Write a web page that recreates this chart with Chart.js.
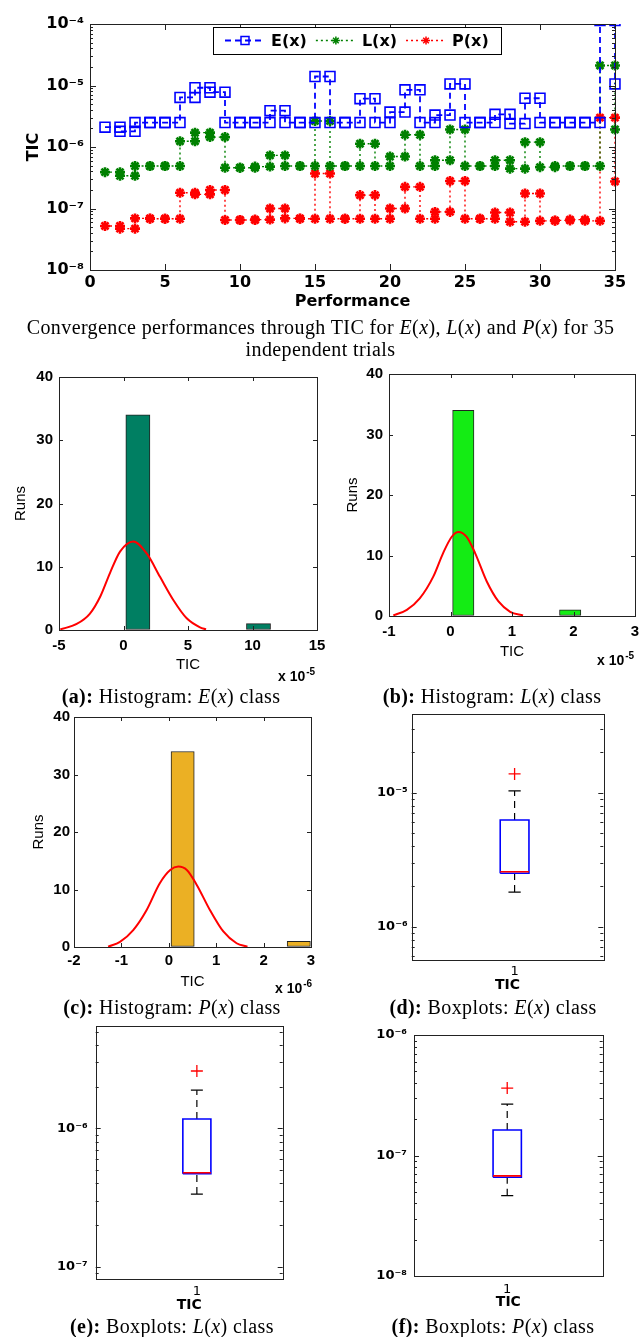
<!DOCTYPE html>
<html><head><meta charset="utf-8">
<script src="https://cdn.jsdelivr.net/npm/chart.js@4/dist/chart.umd.min.js"></script>
<style>
html,body{margin:0;padding:0;background:#fff;}
#page{position:relative;width:641px;height:1337px;overflow:hidden;background:#fff;}
canvas{position:absolute;}
.cap{position:absolute;font-family:'Liberation Serif','Times New Roman',serif;font-size:20px;line-height:22px;letter-spacing:0.4px;color:#000;white-space:nowrap;text-align:center;}
.mult{position:absolute;font-family:'Liberation Sans',Arial,sans-serif;font-weight:bold;font-size:14px;line-height:16px;white-space:nowrap;color:#000;}
.mult span{position:relative;top:-6px;font-size:10px;margin-left:1px;}
</style></head>
<body><div id="page">
<canvas id="cTop"></canvas>
<canvas id="cHa"></canvas>
<canvas id="cHb"></canvas>
<canvas id="cHc"></canvas>
<canvas id="cBd"></canvas>
<canvas id="cBe"></canvas>
<canvas id="cBf"></canvas>
<div class="cap" style="left:0;top:316px;width:641px;">Convergence performances through TIC for <i>E</i>(<i>x</i>), <i>L</i>(<i>x</i>) and <i>P</i>(<i>x</i>) for 35<br>independent trials</div>
<div class="mult" style="left:278px;top:668px;">x 10<span>-5</span></div>
<div class="mult" style="left:597px;top:652px;">x 10<span>-5</span></div>
<div class="mult" style="left:275px;top:980px;">x 10<span>-6</span></div>
<div class="cap" style="left:21px;top:685px;width:300px;"><b>(a):</b> Histogram: <i>E</i>(<i>x</i>) class</div>
<div class="cap" style="left:342px;top:685px;width:300px;"><b>(b):</b> Histogram: <i>L</i>(<i>x</i>) class</div>
<div class="cap" style="left:22px;top:996px;width:300px;"><b>(c):</b> Histogram: <i>P</i>(<i>x</i>) class</div>
<div class="cap" style="left:343px;top:996px;width:300px;"><b>(d):</b> Boxplots: <i>E</i>(<i>x</i>) class</div>
<div class="cap" style="left:22px;top:1315px;width:300px;"><b>(e):</b> Boxplots: <i>L</i>(<i>x</i>) class</div>
<div class="cap" style="left:343px;top:1315px;width:300px;"><b>(f):</b> Boxplots: <i>P</i>(<i>x</i>) class</div>
</div>
<script>
// ---------------- DATA ----------------
const trials = [1,2,3,4,5,6,7,8,9,10,11,12,13,14,15,16,17,18,19,20,21,22,23,24,25,26,27,28,29,30,31,32,33,34,35];
const ticE = [2.1e-6,1.8e-6,2.5e-6,2.5e-6,2.5e-6,6.4e-6,9.2e-6,7.8e-6,2.5e-6,2.5e-6,2.5e-6,3.9e-6,2.5e-6,2.5e-6,1.4e-5,2.5e-6,2.5e-6,6.1e-6,2.5e-6,3.7e-6,8.5e-6,2.5e-6,3.3e-6,1.06e-5,2.5e-6,2.5e-6,3.4e-6,2.4e-6,6.2e-6,2.5e-6,2.5e-6,2.5e-6,2.5e-6,1.14e-4,1.06e-5];
const ticL = [3.9e-7,3.4e-7,4.9e-7,4.9e-7,4.9e-7,1.24e-6,1.71e-6,1.45e-6,4.6e-7,4.6e-7,4.8e-7,7.3e-7,4.9e-7,4.9e-7,2.65e-6,4.9e-7,4.9e-7,1.13e-6,4.9e-7,7.0e-7,1.58e-6,4.9e-7,6.1e-7,1.93e-6,4.9e-7,4.9e-7,6.1e-7,4.45e-7,1.2e-6,4.7e-7,4.9e-7,4.9e-7,4.9e-7,2.12e-5,1.93e-6];
const ticP = [5.2e-8,4.7e-8,6.9e-8,6.8e-8,6.8e-8,1.8e-7,1.7e-7,2.0e-7,6.5e-8,6.5e-8,6.6e-8,1.0e-7,6.9e-8,6.8e-8,3.7e-7,6.8e-8,6.8e-8,1.65e-7,6.8e-8,1.0e-7,2.25e-7,6.8e-8,8.8e-8,2.8e-7,6.8e-8,6.8e-8,8.6e-8,6.1e-8,1.75e-7,6.3e-8,6.4e-8,6.6e-8,6.3e-8,3.0e-6,2.75e-7];
const seriesLabels = ['E(x)','L(x)','P(x)'];
const topYTicks = [1e-8,1e-7,1e-6,1e-5,1e-4];
const topXTicks = [0,5,10,15,20,25,30,35];

// histograms (x in units of 1e-5, 1e-5, 1e-6)
const histEBins = [1.115,2.985,4.855,6.725,8.595,10.465];
const histECounts = [34,0,0,0,0,1];
const fitEX = [-4.9,-3.63,-2.6,-1.8,-1.05,-0.27,0.76,1.8,2.83,3.86,4.9,5.93,6.4];
const fitEY = [0.1,0.95,2.6,5.3,9.0,12.4,14.0,12.1,8.4,4.75,1.85,0.42,0.1];
const histETicks = [-5,0,5,10,15];

const histLBins = [0.208,0.556,0.903,1.251,1.599,1.946];
const histLCounts = [34,0,0,0,0,1];
const fitLX = [-0.93,-0.71,-0.5,-0.28,-0.12,0.02,0.13,0.26,0.40,0.59,0.78,0.97,1.18];
const fitLY = [0.1,1.0,2.9,6.5,10.4,13.1,13.9,13.1,10.4,5.7,2.4,0.7,0.1];
const histLTicks = [-1,0,1,2,3];

const histPBins = [0.292,0.782,1.272,1.762,2.252,2.742];
const histPCounts = [34,0,0,0,0,1];
const fitPX = [-1.28,-1.03,-0.75,-0.47,-0.19,0.03,0.2,0.38,0.59,0.87,1.15,1.43,1.66];
const fitPY = [0.05,0.9,2.95,6.4,11.1,13.4,14.0,13.4,10.8,6.4,2.7,0.65,0.05];
const histPTicks = [-2,-1,0,1,2,3];
const runsTicks = [0,10,20,30,40];

// boxplots: [lower whisker, q1, median, q3, upper whisker]
const boxCategory = [1];
const boxStatsE = [1.81e-6,2.5e-6,2.57e-6,6.25e-6,1.03e-5];
const outliersE = [1.38e-5];
const boxStatsL = [3.35e-7,4.7e-7,4.78e-7,1.17e-6,1.89e-6];
const outliersL = [2.6e-6];
const boxStatsP = [4.64e-8,6.6e-8,6.78e-8,1.63e-7,2.67e-7];
const outliersP = [3.63e-7];
const boxYTicksE = [1e-6,1e-5];
const boxYTicksL = [1e-7,1e-6];
const boxYTicksP = [1e-8,1e-7,1e-6];

// ---------------- HELPERS ----------------
const SUP = {'-':'\u207B','0':'\u2070','1':'\u00B9','2':'\u00B2','3':'\u00B3','4':'\u2074','5':'\u2075','6':'\u2076','7':'\u2077','8':'\u2078','9':'\u2079'};
function pow10Label(v){ const e = Math.round(Math.log10(v)); return '10' + String(e).split('').map(c=>SUP[c]).join(''); }

function drawLegend(chart, L){
  const {ctx, chartArea:a} = chart;
  ctx.save();
  ctx.font = L.font;
  const ds = chart.data.datasets;
  const widths = ds.map(d => ctx.measureText(d.label).width);
  let total = L.padX*2 + L.itemGap*(ds.length-1);
  widths.forEach(w => total += L.sample + L.gap + w);
  const x0 = a.left + L.dx, y0 = a.top + L.dy;
  ctx.fillStyle = '#fff'; ctx.fillRect(x0, y0, total, L.h);
  ctx.strokeStyle = '#000'; ctx.lineWidth = 1; ctx.setLineDash([]);
  ctx.strokeRect(Math.round(x0)+0.5, Math.round(y0)+0.5, Math.round(total), L.h);
  let x = x0 + L.padX; const cy = y0 + L.h/2;
  ds.forEach((d,i) => {
    ctx.strokeStyle = d.borderColor; ctx.lineWidth = d.borderWidth; ctx.setLineDash(d.borderDash||[]);
    ctx.beginPath(); ctx.moveTo(x, cy); ctx.lineTo(x+L.sample, cy); ctx.stroke();
    ctx.setLineDash([]);
    const mx = x + L.sample/2;
    ctx.lineWidth = L.markerWidth;
    ctx.beginPath();
    if (d.pointStyle === 'rect') {
      const s = L.markerSize; ctx.rect(mx-s, cy-s, 2*s, 2*s);
    } else {
      const r = L.markerSize;
      ctx.moveTo(mx-r, cy); ctx.lineTo(mx+r, cy); ctx.moveTo(mx, cy-r); ctx.lineTo(mx, cy+r);
      const q = r*0.707;
      ctx.moveTo(mx-q, cy-q); ctx.lineTo(mx+q, cy+q); ctx.moveTo(mx-q, cy+q); ctx.lineTo(mx+q, cy-q);
    }
    ctx.stroke();
    ctx.fillStyle = '#000'; ctx.textBaseline = 'middle'; ctx.textAlign = 'left';
    ctx.fillText(d.label, x + L.sample + L.gap, cy + 1);
    x += L.sample + L.gap + widths[i] + L.itemGap;
  });
  ctx.restore();
}

const framePlugin = {
  id: 'frame',
  afterDatasetsDraw(chart, args, o){
    if (!o || !o.on) return;
    const {ctx, chartArea:a} = chart;
    const xs = chart.scales.x, ys = chart.scales.y;
    ctx.save();
    ctx.strokeStyle = o.color; ctx.lineWidth = 1; ctx.setLineDash([]);
    ctx.beginPath();
    const hy = (v, len) => { const p = Math.round(ys.getPixelForValue(v)) + 0.5;
      ctx.moveTo(a.left, p); ctx.lineTo(a.left + len, p); ctx.moveTo(a.right, p); ctx.lineTo(a.right - len, p); };
    ys.ticks.forEach(t => hy(t.value, o.major));
    if (ys.type === 'logarithmic') {
      const k0 = Math.floor(Math.log10(ys.min)), k1 = Math.ceil(Math.log10(ys.max));
      for (let k = k0; k <= k1; k++) for (let m = 2; m <= 9; m++) {
        const v = m * Math.pow(10, k);
        if (v > ys.min && v < ys.max) hy(v, o.minor);
      }
    }
    if (o.xTicks) xs.ticks.forEach(t => { const p = Math.round(xs.getPixelForValue(t.value)) + 0.5;
      ctx.moveTo(p, a.bottom); ctx.lineTo(p, a.bottom - o.major); ctx.moveTo(p, a.top); ctx.lineTo(p, a.top + o.major); });
    ctx.stroke();
    ctx.lineWidth = o.frameWidth || 1;
    ctx.strokeRect(Math.round(a.left)+0.5, Math.round(a.top)+0.5, Math.round(a.right-a.left), Math.round(a.bottom-a.top));
    ctx.restore();
    if (o.legend) drawLegend(chart, o.legend);
  }
};
Chart.register(framePlugin);

function axis(o){
  const ax = {
    type: o.type, min: o.min, max: o.max, offset: false,
    grid: {display:true, drawOnChartArea:false, drawTicks:true, tickLength:o.tl, tickColor:'rgba(0,0,0,0)'},
    border: {display:false},
    ticks: Object.assign({padding:0, autoSkip:false, maxRotation:0, minRotation:0, color:'#000', font:o.font}, o.ticks||{}),
    title: o.title ? {display:true, text:o.title, color:'#000', font:o.titleFont, padding:o.titlePad} : {display:false}
  };
  if (o.tickValues) ax.afterBuildTicks = s => { s.ticks = o.tickValues.map(v => ({value:v})); };
  return ax;
}

function makeChart(id, box, area, padLeft, cfg){
  const cv = document.getElementById(id);
  cv.width = box.w; cv.height = box.h;
  Object.assign(cv.style, {left:box.left+'px', top:box.top+'px', width:box.w+'px', height:box.h+'px'});
  const o = cfg.options;
  o.responsive = false; o.maintainAspectRatio = false; o.animation = false; o.devicePixelRatio = 1; o.events = [];
  o.layout = {padding:{left:padLeft, top:area.t-box.top, right:box.left+box.w-area.r, bottom:0}};
  const yW = area.l - box.left - padLeft, xH = box.top + box.h - area.b;
  o.scales.y.afterFit = s => { s.width = yW; };
  o.scales.x.afterFit = s => { s.height = xH; };
  o.plugins = Object.assign({legend:{display:false}, tooltip:{enabled:false}}, o.plugins||{});
  return new Chart(cv, cfg);
}

function stairs(vals){
  const pts = [];
  vals.forEach((v,i) => { if (i > 0) pts.push({x:trials[i], y:vals[i-1]}); pts.push({x:trials[i], y:v}); });
  return pts;
}
const xy = (xa, ya) => xa.map((x,i) => ({x, y:ya[i]}));

// ---------------- TOP CHART ----------------
const dvB16 = {family:'DejaVu Sans', weight:'bold', size:16};
const clipT = {left:10, right:10, top:0, bottom:0};
makeChart('cTop', {left:0, top:0, w:641, h:315}, {l:90, t:24, r:615, b:270}, 20, {
  type:'line',
  data:{datasets:[
    {label:seriesLabels[0], data:stairs(ticE), borderColor:'#0000ff', borderWidth:1.8, borderDash:[6,4],
     pointStyle:'rect', pointRadius:7, pointBorderWidth:1.6, pointBorderColor:'#0000ff', pointBackgroundColor:'rgba(0,0,0,0)',
     fill:false, tension:0, clip:clipT, order:0},
    {label:seriesLabels[1], data:stairs(ticL), borderColor:'#008000', borderWidth:1.4, borderDash:[2,3],
     pointStyle:'star', pointRadius:5, pointBorderWidth:2.6, pointBorderColor:'#008000', pointBackgroundColor:'#008000',
     fill:false, tension:0, clip:clipT, order:1},
    {label:seriesLabels[2], data:stairs(ticP), borderColor:'#ff0000', borderWidth:1.4, borderDash:[2,3],
     pointStyle:'star', pointRadius:5, pointBorderWidth:2.6, pointBorderColor:'#ff0000', pointBackgroundColor:'#ff0000',
     fill:false, tension:0, clip:clipT, order:2}
  ]},
  options:{
    scales:{
      x: axis({type:'linear', min:0, max:35, tl:3, font:dvB16, tickValues:topXTicks,
               title:'Performance', titleFont:{family:'DejaVu Sans', weight:'bold', size:16}, titlePad:{top:0, bottom:4}}),
      y: axis({type:'logarithmic', min:1e-8, max:1e-4, tl:6, font:dvB16, tickValues:topYTicks,
               ticks:{callback:v => pow10Label(v)},
               title:'TIC', titleFont:{family:'DejaVu Sans', weight:'bold', size:16}, titlePad:{top:4, bottom:0}})
    },
    plugins:{frame:{on:true, color:'#222', major:6, minor:3, xTicks:true,
      legend:{dx:123, dy:3, h:27, padX:12, sample:40, gap:6, itemGap:9, font:'bold 16px "DejaVu Sans"', markerSize:4, markerWidth:1.5}}}
  }
});

// ---------------- HISTOGRAMS ----------------
const lsB15 = {family:'Liberation Sans', weight:'bold', size:15};
const lsN15 = {family:'Liberation Sans', weight:'normal', size:15};
function histChart(id, box, area, padLeft, bins, counts, fx, fy, color, xr, xTicks, ytl, xtl, titlePad){
  return makeChart(id, box, area, padLeft, {
    type:'bar',
    data:{datasets:[
      {type:'line', data:xy(fx, fy), borderColor:'#ff0000', borderWidth:2, pointRadius:0, fill:false,
       cubicInterpolationMode:'monotone', order:0},
      {type:'bar', data:xy(bins, counts), backgroundColor:color, borderColor:'#222', borderWidth:1,
       borderSkipped:false, barPercentage:1, categoryPercentage:1, order:1}
    ]},
    options:{
      scales:{
        x: axis({type:'linear', min:xr[0], max:xr[1], tl:xtl, font:lsB15, tickValues:xTicks,
                 title:'TIC', titleFont:lsN15, titlePad:{top:0, bottom:titlePad}}),
        y: axis({type:'linear', min:0, max:40, tl:ytl, font:lsB15, tickValues:runsTicks,
                 title:'Runs', titleFont:lsN15, titlePad:{top:4, bottom:0}})
      },
      plugins:{frame:{on:true, color:'#222', major:4, minor:2, xTicks:true}}
    }
  });
}
histChart('cHa', {left:0, top:360, w:330, h:320}, {l:59, t:377, r:317, b:630}, 8,
  histEBins, histECounts, fitEX, fitEY, '#007f62', [-5,15], histETicks, 6, 7, 6);
histChart('cHb', {left:321, top:357, w:320, h:309}, {l:389, t:374, r:635, b:616}, 18.5,
  histLBins, histLCounts, fitLX, fitLY, '#14ec14', [-1,3], histLTicks, 6, 7, 5.5);
histChart('cHc', {left:0, top:700, w:325, h:297}, {l:74, t:717, r:311, b:947}, 26,
  histPBins, histPCounts, fitPX, fitPY, '#ebb024', [-2,3], histPTicks, 4, 5, 6);

// ---------------- BOXPLOTS ----------------
function boxDatasets(stats, outliers){
  const [lo, q1, med, q3, hi] = stats;
  const c = boxCategory[0], bw = 0.075, cw = 0.032;
  const seg = (pts, color, dash, w, order) => ({type:'line', data:pts, borderColor:color, borderWidth:w, borderDash:dash,
     pointRadius:0, fill:false, tension:0, order});
  return [
    seg([{x:c,y:q3},{x:c,y:hi}], '#000', [7,5], 1.2, 3),
    seg([{x:c,y:lo},{x:c,y:q1}], '#000', [7,5], 1.2, 3),
    seg([{x:c-cw,y:hi},{x:c+cw,y:hi}], '#000', [], 1.2, 3),
    seg([{x:c-cw,y:lo},{x:c+cw,y:lo}], '#000', [], 1.2, 3),
    seg([{x:c-bw,y:q1},{x:c+bw,y:q1},{x:c+bw,y:q3},{x:c-bw,y:q3},{x:c-bw,y:q1}], '#0000ff', [], 1.6, 2),
    seg([{x:c-bw,y:med},{x:c+bw,y:med}], '#ff0000', [], 1.6, 1),
    {type:'line', data:outliers.map(v => ({x:c, y:v})), showLine:false, pointStyle:'cross', pointRadius:6,
     pointBorderColor:'#ff0000', pointBorderWidth:1.3, order:0}
  ];
}
const dvB13 = {family:'DejaVu Sans', weight:'bold', size:13};
const dvN13 = {family:'DejaVu Sans', weight:'normal', size:13};
function boxChart(id, box, area, stats, outs, yr, yTicks, xr, ytl, xtl, titlePad){
  return makeChart(id, box, area, 0, {
    type:'line',
    data:{datasets:boxDatasets(stats, outs)},
    options:{
      scales:{
        x: axis({type:'linear', min:xr[0], max:xr[1], tl:xtl, font:dvN13, tickValues:boxCategory,
                 ticks:{callback:v => String(v)},
                 title:'TIC', titleFont:{family:'DejaVu Sans', weight:'bold', size:14}, titlePad:{top:0, bottom:titlePad}}),
        y: axis({type:'logarithmic', min:yr[0], max:yr[1], tl:ytl, font:dvB13, tickValues:yTicks,
                 ticks:{callback:v => pow10Label(v)}})
      },
      plugins:{frame:{on:true, color:'#222', major:5, minor:3, xTicks:false}}
    }
  });
}
boxChart('cBd', {left:321, top:700, w:320, h:296}, {l:411.7, t:714, r:603.3, b:960},
  boxStatsE, outliersE, [5.64e-7, 3.86e-5], boxYTicksE, [0.463, 1.463], 4, 4, 2.6);
boxChart('cBe', {left:0, top:1010, w:320, h:306}, {l:95.7, t:1026, r:282.7, b:1279},
  boxStatsL, outliersL, [8.15e-8, 5.5e-6], boxYTicksL, [0.459, 1.459], 8, 5, 2);
boxChart('cBf', {left:321, top:1010, w:320, h:303}, {l:414, t:1035, r:602.7, b:1276},
  boxStatsP, outliersP, [1e-8, 1e-6], boxYTicksP, [0.506, 1.506], 7, 6, 2.6);
</script>
</body></html>
